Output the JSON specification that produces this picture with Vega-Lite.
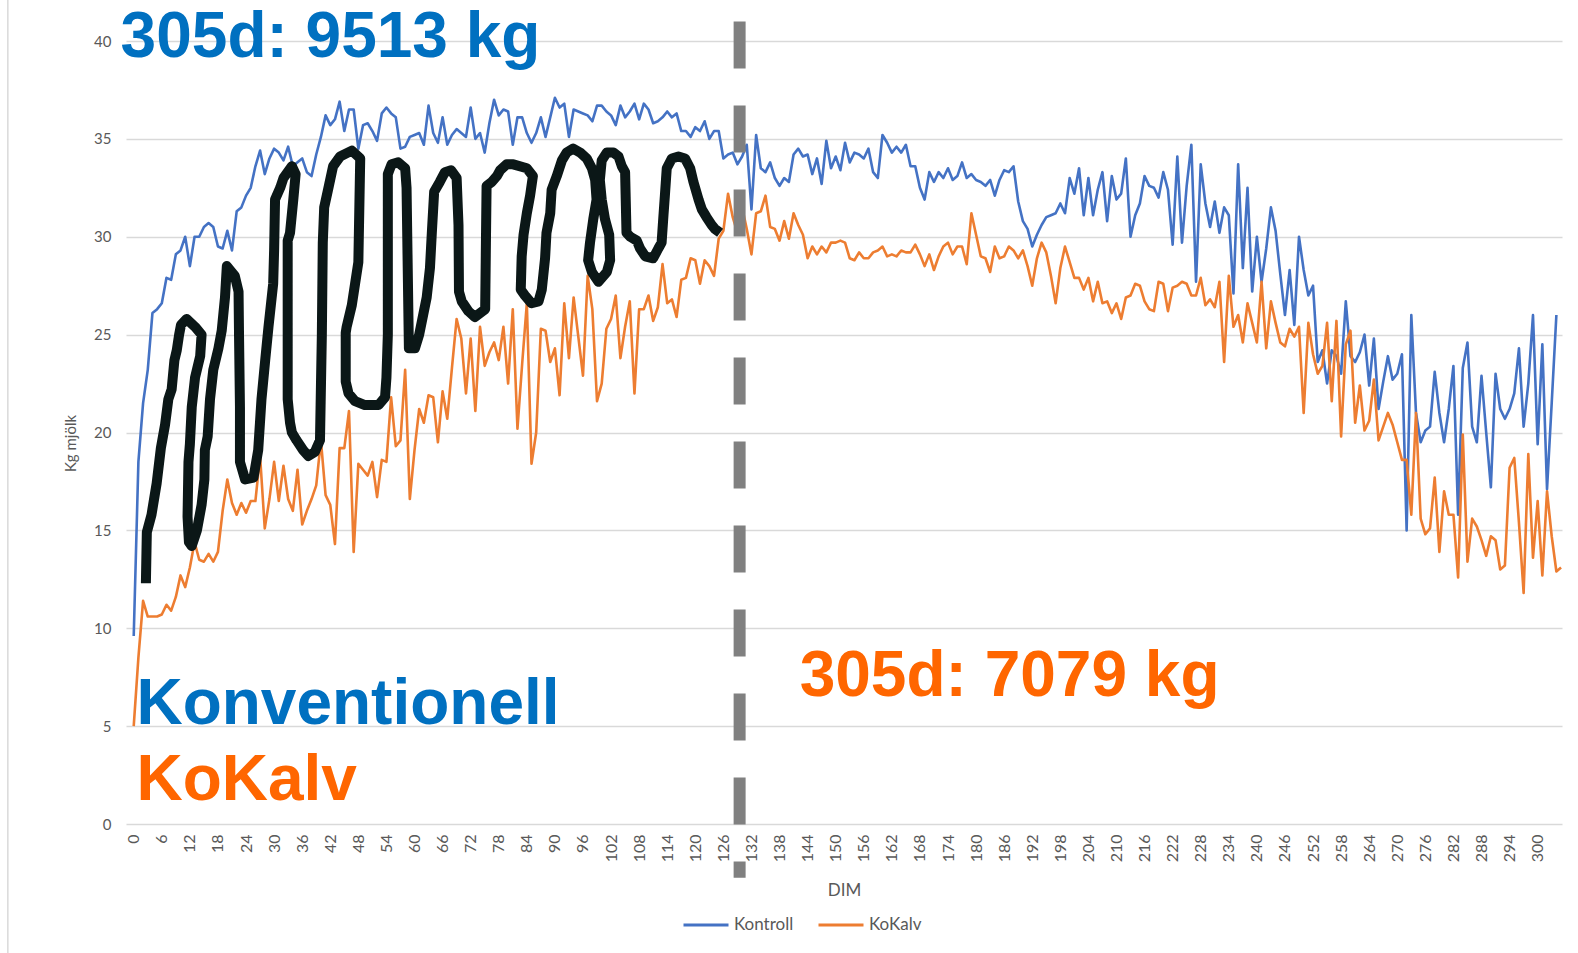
{
  "$schema": "https://vega.github.io/schema/vega-lite/v6.json",
  "autosize": {"type": "none"},
  "width": 1436,
  "height": 783,
  "padding": {"left": 126, "top": 41, "right": 16, "bottom": 129},
  "background": "white",
  "config": {
    "view": {"stroke": null},
    "font": "Lato"
  },
  "resolve": {"axis": {"x": "independent", "y": "independent"}},
  "datasets": {
    "milk": [
      {"DIM":0,"Kontroll":9.6,"KoKalv":5.0},{"DIM":1,"Kontroll":18.5,"KoKalv":8.5},{"DIM":2,"Kontroll":21.5,"KoKalv":11.4},{"DIM":3,"Kontroll":23.2,"KoKalv":10.6},{"DIM":4,"Kontroll":26.1,"KoKalv":10.6},{"DIM":5,"Kontroll":26.3,"KoKalv":10.6},{"DIM":6,"Kontroll":26.6,"KoKalv":10.7},{"DIM":7,"Kontroll":27.9,"KoKalv":11.2},{"DIM":8,"Kontroll":27.8,"KoKalv":10.9},{"DIM":9,"Kontroll":29.1,"KoKalv":11.6},
      {"DIM":10,"Kontroll":29.3,"KoKalv":12.7},{"DIM":11,"Kontroll":30.0,"KoKalv":12.1},{"DIM":12,"Kontroll":28.5,"KoKalv":13.1},{"DIM":13,"Kontroll":30.0,"KoKalv":14.4},{"DIM":14,"Kontroll":30.0,"KoKalv":13.5},{"DIM":15,"Kontroll":30.5,"KoKalv":13.4},{"DIM":16,"Kontroll":30.7,"KoKalv":13.8},{"DIM":17,"Kontroll":30.5,"KoKalv":13.4},{"DIM":18,"Kontroll":29.5,"KoKalv":13.9},{"DIM":19,"Kontroll":29.4,"KoKalv":16.0},
      {"DIM":20,"Kontroll":30.3,"KoKalv":17.6},{"DIM":21,"Kontroll":29.3,"KoKalv":16.4},{"DIM":22,"Kontroll":31.3,"KoKalv":15.8},{"DIM":23,"Kontroll":31.5,"KoKalv":16.4},{"DIM":24,"Kontroll":32.1,"KoKalv":15.9},{"DIM":25,"Kontroll":32.5,"KoKalv":16.5},{"DIM":26,"Kontroll":33.6,"KoKalv":16.5},{"DIM":27,"Kontroll":34.4,"KoKalv":18.8},{"DIM":28,"Kontroll":33.2,"KoKalv":15.1},{"DIM":29,"Kontroll":34.0,"KoKalv":16.6},
      {"DIM":30,"Kontroll":34.5,"KoKalv":18.5},{"DIM":31,"Kontroll":34.3,"KoKalv":16.5},{"DIM":32,"Kontroll":33.9,"KoKalv":18.3},{"DIM":33,"Kontroll":34.6,"KoKalv":16.6},{"DIM":34,"Kontroll":33.6,"KoKalv":16.0},{"DIM":35,"Kontroll":33.8,"KoKalv":18.1},{"DIM":36,"Kontroll":34.0,"KoKalv":15.3},{"DIM":37,"Kontroll":33.3,"KoKalv":16.0},{"DIM":38,"Kontroll":33.1,"KoKalv":16.6},{"DIM":39,"Kontroll":34.2,"KoKalv":17.3},
      {"DIM":40,"Kontroll":35.1,"KoKalv":19.6},{"DIM":41,"Kontroll":36.2,"KoKalv":16.8},{"DIM":42,"Kontroll":35.7,"KoKalv":16.3},{"DIM":43,"Kontroll":36.0,"KoKalv":14.3},{"DIM":44,"Kontroll":36.9,"KoKalv":19.2},{"DIM":45,"Kontroll":35.4,"KoKalv":19.2},{"DIM":46,"Kontroll":36.5,"KoKalv":21.1},{"DIM":47,"Kontroll":36.5,"KoKalv":13.9},{"DIM":48,"Kontroll":34.5,"KoKalv":18.4},{"DIM":49,"Kontroll":35.7,"KoKalv":18.1},
      {"DIM":50,"Kontroll":35.8,"KoKalv":17.8},{"DIM":51,"Kontroll":35.4,"KoKalv":18.5},{"DIM":52,"Kontroll":34.9,"KoKalv":16.7},{"DIM":53,"Kontroll":36.3,"KoKalv":18.6},{"DIM":54,"Kontroll":36.6,"KoKalv":18.5},{"DIM":55,"Kontroll":36.3,"KoKalv":21.8},{"DIM":56,"Kontroll":36.1,"KoKalv":19.3},{"DIM":57,"Kontroll":34.5,"KoKalv":19.6},{"DIM":58,"Kontroll":34.6,"KoKalv":23.2},{"DIM":59,"Kontroll":35.1,"KoKalv":16.6},
      {"DIM":60,"Kontroll":35.2,"KoKalv":19.1},{"DIM":61,"Kontroll":35.3,"KoKalv":21.2},{"DIM":62,"Kontroll":34.7,"KoKalv":20.5},{"DIM":63,"Kontroll":36.7,"KoKalv":21.9},{"DIM":64,"Kontroll":35.3,"KoKalv":21.8},{"DIM":65,"Kontroll":34.8,"KoKalv":19.5},{"DIM":66,"Kontroll":36.1,"KoKalv":22.1},{"DIM":67,"Kontroll":34.7,"KoKalv":20.7},{"DIM":68,"Kontroll":35.2,"KoKalv":23.3},{"DIM":69,"Kontroll":35.5,"KoKalv":25.8},
      {"DIM":70,"Kontroll":35.3,"KoKalv":24.8},{"DIM":71,"Kontroll":35.1,"KoKalv":22.0},{"DIM":72,"Kontroll":36.6,"KoKalv":24.8},{"DIM":73,"Kontroll":35.0,"KoKalv":21.1},{"DIM":74,"Kontroll":35.3,"KoKalv":25.4},{"DIM":75,"Kontroll":34.3,"KoKalv":23.4},{"DIM":76,"Kontroll":35.8,"KoKalv":24.1},{"DIM":77,"Kontroll":37.0,"KoKalv":24.6},{"DIM":78,"Kontroll":36.2,"KoKalv":23.7},{"DIM":79,"Kontroll":36.5,"KoKalv":25.4},
      {"DIM":80,"Kontroll":36.4,"KoKalv":22.5},{"DIM":81,"Kontroll":34.7,"KoKalv":26.3},{"DIM":82,"Kontroll":36.1,"KoKalv":20.2},{"DIM":83,"Kontroll":36.1,"KoKalv":23.5},{"DIM":84,"Kontroll":35.3,"KoKalv":26.6},{"DIM":85,"Kontroll":34.8,"KoKalv":18.4},{"DIM":86,"Kontroll":35.3,"KoKalv":20.0},{"DIM":87,"Kontroll":36.1,"KoKalv":25.3},{"DIM":88,"Kontroll":35.1,"KoKalv":25.2},{"DIM":89,"Kontroll":36.1,"KoKalv":23.6},
      {"DIM":90,"Kontroll":37.1,"KoKalv":24.3},{"DIM":91,"Kontroll":36.6,"KoKalv":21.9},{"DIM":92,"Kontroll":36.8,"KoKalv":26.6},{"DIM":93,"Kontroll":35.1,"KoKalv":23.8},{"DIM":94,"Kontroll":36.5,"KoKalv":26.9},{"DIM":95,"Kontroll":36.4,"KoKalv":24.9},{"DIM":96,"Kontroll":36.3,"KoKalv":22.9},{"DIM":97,"Kontroll":36.2,"KoKalv":28.0},{"DIM":98,"Kontroll":35.9,"KoKalv":26.3},{"DIM":99,"Kontroll":36.7,"KoKalv":21.6},
      {"DIM":100,"Kontroll":36.7,"KoKalv":22.5},{"DIM":101,"Kontroll":36.4,"KoKalv":25.3},{"DIM":102,"Kontroll":36.2,"KoKalv":25.8},{"DIM":103,"Kontroll":35.7,"KoKalv":27.0},{"DIM":104,"Kontroll":36.7,"KoKalv":23.8},{"DIM":105,"Kontroll":36.1,"KoKalv":25.4},{"DIM":106,"Kontroll":36.4,"KoKalv":26.7},{"DIM":107,"Kontroll":36.8,"KoKalv":22.0},{"DIM":108,"Kontroll":36.0,"KoKalv":26.3},{"DIM":109,"Kontroll":36.8,"KoKalv":26.3},
      {"DIM":110,"Kontroll":36.5,"KoKalv":27.0},{"DIM":111,"Kontroll":35.8,"KoKalv":25.7},{"DIM":112,"Kontroll":35.9,"KoKalv":26.4},{"DIM":113,"Kontroll":36.1,"KoKalv":28.6},{"DIM":114,"Kontroll":36.4,"KoKalv":26.6},{"DIM":115,"Kontroll":36.1,"KoKalv":26.8},{"DIM":116,"Kontroll":36.3,"KoKalv":25.9},{"DIM":117,"Kontroll":35.4,"KoKalv":27.8},{"DIM":118,"Kontroll":35.4,"KoKalv":27.9},{"DIM":119,"Kontroll":35.1,"KoKalv":28.9},
      {"DIM":120,"Kontroll":35.6,"KoKalv":28.8},{"DIM":121,"Kontroll":35.4,"KoKalv":27.6},{"DIM":122,"Kontroll":35.9,"KoKalv":28.8},{"DIM":123,"Kontroll":35.0,"KoKalv":28.5},{"DIM":124,"Kontroll":35.4,"KoKalv":28.0},{"DIM":125,"Kontroll":35.4,"KoKalv":29.9},{"DIM":126,"Kontroll":34.0,"KoKalv":30.3},{"DIM":127,"Kontroll":34.2,"KoKalv":32.2},{"DIM":128,"Kontroll":34.3,"KoKalv":31.0},{"DIM":129,"Kontroll":33.7,"KoKalv":30.2},
      {"DIM":130,"Kontroll":34.1,"KoKalv":31.5},{"DIM":131,"Kontroll":34.7,"KoKalv":30.4},{"DIM":132,"Kontroll":31.4,"KoKalv":29.1},{"DIM":133,"Kontroll":35.2,"KoKalv":31.2},{"DIM":134,"Kontroll":33.5,"KoKalv":31.3},{"DIM":135,"Kontroll":33.3,"KoKalv":32.1},{"DIM":136,"Kontroll":33.8,"KoKalv":30.5},{"DIM":137,"Kontroll":33.0,"KoKalv":30.4},{"DIM":138,"Kontroll":32.6,"KoKalv":29.8},{"DIM":139,"Kontroll":33.0,"KoKalv":30.8},
      {"DIM":140,"Kontroll":32.8,"KoKalv":29.9},{"DIM":141,"Kontroll":34.2,"KoKalv":31.2},{"DIM":142,"Kontroll":34.5,"KoKalv":30.6},{"DIM":143,"Kontroll":34.1,"KoKalv":30.1},{"DIM":144,"Kontroll":34.2,"KoKalv":28.9},{"DIM":145,"Kontroll":33.2,"KoKalv":29.5},{"DIM":146,"Kontroll":34.0,"KoKalv":29.1},{"DIM":147,"Kontroll":32.7,"KoKalv":29.5},{"DIM":148,"Kontroll":34.9,"KoKalv":29.2},{"DIM":149,"Kontroll":33.5,"KoKalv":29.7},
      {"DIM":150,"Kontroll":34.1,"KoKalv":29.7},{"DIM":151,"Kontroll":33.4,"KoKalv":29.8},{"DIM":152,"Kontroll":34.8,"KoKalv":29.7},{"DIM":153,"Kontroll":33.8,"KoKalv":28.9},{"DIM":154,"Kontroll":34.3,"KoKalv":28.8},{"DIM":155,"Kontroll":34.2,"KoKalv":29.2},{"DIM":156,"Kontroll":34.0,"KoKalv":28.9},{"DIM":157,"Kontroll":34.5,"KoKalv":28.9},{"DIM":158,"Kontroll":33.3,"KoKalv":29.2},{"DIM":159,"Kontroll":33.0,"KoKalv":29.3},
      {"DIM":160,"Kontroll":35.2,"KoKalv":29.5},{"DIM":161,"Kontroll":34.8,"KoKalv":29.0},{"DIM":162,"Kontroll":34.3,"KoKalv":29.1},{"DIM":163,"Kontroll":34.6,"KoKalv":29.0},{"DIM":164,"Kontroll":34.3,"KoKalv":29.3},{"DIM":165,"Kontroll":34.7,"KoKalv":29.2},{"DIM":166,"Kontroll":33.6,"KoKalv":29.2},{"DIM":167,"Kontroll":33.6,"KoKalv":29.6},{"DIM":168,"Kontroll":32.5,"KoKalv":29.1},{"DIM":169,"Kontroll":31.9,"KoKalv":28.5},
      {"DIM":170,"Kontroll":33.3,"KoKalv":29.1},{"DIM":171,"Kontroll":32.8,"KoKalv":28.3},{"DIM":172,"Kontroll":33.3,"KoKalv":29.0},{"DIM":173,"Kontroll":33.0,"KoKalv":29.5},{"DIM":174,"Kontroll":33.5,"KoKalv":29.7},{"DIM":175,"Kontroll":32.9,"KoKalv":29.1},{"DIM":176,"Kontroll":33.1,"KoKalv":29.5},{"DIM":177,"Kontroll":33.8,"KoKalv":29.5},{"DIM":178,"Kontroll":33.0,"KoKalv":28.6},{"DIM":179,"Kontroll":33.2,"KoKalv":31.2},
      {"DIM":180,"Kontroll":32.9,"KoKalv":30.1},{"DIM":181,"Kontroll":32.8,"KoKalv":29.0},{"DIM":182,"Kontroll":32.6,"KoKalv":28.9},{"DIM":183,"Kontroll":32.9,"KoKalv":28.2},{"DIM":184,"Kontroll":32.1,"KoKalv":29.5},{"DIM":185,"Kontroll":32.9,"KoKalv":28.9},{"DIM":186,"Kontroll":33.4,"KoKalv":29.0},{"DIM":187,"Kontroll":33.3,"KoKalv":29.5},{"DIM":188,"Kontroll":33.6,"KoKalv":29.3},{"DIM":189,"Kontroll":31.8,"KoKalv":28.9},
      {"DIM":190,"Kontroll":30.8,"KoKalv":29.3},{"DIM":191,"Kontroll":30.4,"KoKalv":28.5},{"DIM":192,"Kontroll":29.5,"KoKalv":27.5},{"DIM":193,"Kontroll":30.1,"KoKalv":28.9},{"DIM":194,"Kontroll":30.6,"KoKalv":29.7},{"DIM":195,"Kontroll":31.0,"KoKalv":29.2},{"DIM":196,"Kontroll":31.1,"KoKalv":28.0},{"DIM":197,"Kontroll":31.2,"KoKalv":26.6},{"DIM":198,"Kontroll":31.7,"KoKalv":28.4},{"DIM":199,"Kontroll":31.2,"KoKalv":29.5},
      {"DIM":200,"Kontroll":33.0,"KoKalv":28.7},{"DIM":201,"Kontroll":32.2,"KoKalv":27.9},{"DIM":202,"Kontroll":33.5,"KoKalv":27.9},{"DIM":203,"Kontroll":31.1,"KoKalv":27.3},{"DIM":204,"Kontroll":33.0,"KoKalv":27.9},{"DIM":205,"Kontroll":31.1,"KoKalv":26.7},{"DIM":206,"Kontroll":32.4,"KoKalv":27.7},{"DIM":207,"Kontroll":33.3,"KoKalv":26.6},{"DIM":208,"Kontroll":30.8,"KoKalv":26.7},{"DIM":209,"Kontroll":33.1,"KoKalv":26.1},
      {"DIM":210,"Kontroll":31.9,"KoKalv":26.6},{"DIM":211,"Kontroll":32.2,"KoKalv":25.8},{"DIM":212,"Kontroll":34.0,"KoKalv":26.9},{"DIM":213,"Kontroll":30.0,"KoKalv":27.0},{"DIM":214,"Kontroll":31.1,"KoKalv":27.6},{"DIM":215,"Kontroll":31.7,"KoKalv":27.5},{"DIM":216,"Kontroll":33.1,"KoKalv":26.7},{"DIM":217,"Kontroll":32.6,"KoKalv":26.3},{"DIM":218,"Kontroll":32.5,"KoKalv":26.2},{"DIM":219,"Kontroll":32.0,"KoKalv":27.7},
      {"DIM":220,"Kontroll":33.3,"KoKalv":27.6},{"DIM":221,"Kontroll":32.4,"KoKalv":26.2},{"DIM":222,"Kontroll":29.6,"KoKalv":27.4},{"DIM":223,"Kontroll":34.1,"KoKalv":27.5},{"DIM":224,"Kontroll":29.7,"KoKalv":27.7},{"DIM":225,"Kontroll":32.6,"KoKalv":27.6},{"DIM":226,"Kontroll":34.7,"KoKalv":27.0},{"DIM":227,"Kontroll":27.7,"KoKalv":27.0},{"DIM":228,"Kontroll":33.7,"KoKalv":27.9},{"DIM":229,"Kontroll":31.7,"KoKalv":26.5},
      {"DIM":230,"Kontroll":30.5,"KoKalv":26.8},{"DIM":231,"Kontroll":31.8,"KoKalv":26.4},{"DIM":232,"Kontroll":30.2,"KoKalv":27.7},{"DIM":233,"Kontroll":31.5,"KoKalv":23.6},{"DIM":234,"Kontroll":31.1,"KoKalv":28.0},{"DIM":235,"Kontroll":27.1,"KoKalv":25.4},{"DIM":236,"Kontroll":33.7,"KoKalv":26.0},{"DIM":237,"Kontroll":28.4,"KoKalv":24.6},{"DIM":238,"Kontroll":32.5,"KoKalv":26.6},{"DIM":239,"Kontroll":27.2,"KoKalv":25.6},
      {"DIM":240,"Kontroll":30.0,"KoKalv":24.6},{"DIM":241,"Kontroll":27.7,"KoKalv":27.7},{"DIM":242,"Kontroll":29.4,"KoKalv":24.3},{"DIM":243,"Kontroll":31.5,"KoKalv":26.7},{"DIM":244,"Kontroll":30.3,"KoKalv":25.6},{"DIM":245,"Kontroll":28.1,"KoKalv":24.6},{"DIM":246,"Kontroll":26.0,"KoKalv":24.4},{"DIM":247,"Kontroll":28.3,"KoKalv":25.3},{"DIM":248,"Kontroll":25.5,"KoKalv":24.9},{"DIM":249,"Kontroll":30.0,"KoKalv":25.4},
      {"DIM":250,"Kontroll":28.3,"KoKalv":21.0},{"DIM":251,"Kontroll":27.0,"KoKalv":25.6},{"DIM":252,"Kontroll":27.5,"KoKalv":24.0},{"DIM":253,"Kontroll":23.6,"KoKalv":23.0},{"DIM":254,"Kontroll":24.2,"KoKalv":23.4},{"DIM":255,"Kontroll":22.5,"KoKalv":25.6},{"DIM":256,"Kontroll":24.2,"KoKalv":21.6},{"DIM":257,"Kontroll":23.9,"KoKalv":25.7},{"DIM":258,"Kontroll":23.0,"KoKalv":19.8},{"DIM":259,"Kontroll":26.7,"KoKalv":24.5},
      {"DIM":260,"Kontroll":23.9,"KoKalv":25.2},{"DIM":261,"Kontroll":23.6,"KoKalv":20.5},{"DIM":262,"Kontroll":24.1,"KoKalv":22.4},{"DIM":263,"Kontroll":25.0,"KoKalv":20.1},{"DIM":264,"Kontroll":22.4,"KoKalv":20.6},{"DIM":265,"Kontroll":24.8,"KoKalv":22.7},{"DIM":266,"Kontroll":21.2,"KoKalv":19.6},{"DIM":267,"Kontroll":22.6,"KoKalv":20.3},{"DIM":268,"Kontroll":23.9,"KoKalv":21.0},{"DIM":269,"Kontroll":22.7,"KoKalv":20.4},
      {"DIM":270,"Kontroll":23.0,"KoKalv":19.5},{"DIM":271,"Kontroll":24.0,"KoKalv":18.6},{"DIM":272,"Kontroll":15.0,"KoKalv":18.6},{"DIM":273,"Kontroll":26.0,"KoKalv":15.8},{"DIM":274,"Kontroll":21.0,"KoKalv":21.0},{"DIM":275,"Kontroll":19.5,"KoKalv":15.6},{"DIM":276,"Kontroll":20.1,"KoKalv":14.8},{"DIM":277,"Kontroll":20.3,"KoKalv":15.1},{"DIM":278,"Kontroll":23.1,"KoKalv":17.7},{"DIM":279,"Kontroll":21.0,"KoKalv":13.9},
      {"DIM":280,"Kontroll":19.5,"KoKalv":17.0},{"DIM":281,"Kontroll":21.2,"KoKalv":15.8},{"DIM":282,"Kontroll":23.4,"KoKalv":15.8},{"DIM":283,"Kontroll":15.8,"KoKalv":12.6},{"DIM":284,"Kontroll":23.3,"KoKalv":19.9},{"DIM":285,"Kontroll":24.6,"KoKalv":13.4},{"DIM":286,"Kontroll":20.3,"KoKalv":15.6},{"DIM":287,"Kontroll":19.5,"KoKalv":15.2},{"DIM":288,"Kontroll":22.9,"KoKalv":14.5},{"DIM":289,"Kontroll":20.0,"KoKalv":13.7},
      {"DIM":290,"Kontroll":17.2,"KoKalv":14.7},{"DIM":291,"Kontroll":23.0,"KoKalv":14.5},{"DIM":292,"Kontroll":21.2,"KoKalv":13.0},{"DIM":293,"Kontroll":20.7,"KoKalv":13.2},{"DIM":294,"Kontroll":21.2,"KoKalv":18.2},{"DIM":295,"Kontroll":22.0,"KoKalv":18.7},{"DIM":296,"Kontroll":24.3,"KoKalv":15.4},{"DIM":297,"Kontroll":20.3,"KoKalv":11.8},{"DIM":298,"Kontroll":22.5,"KoKalv":18.9},{"DIM":299,"Kontroll":26.0,"KoKalv":13.6},
      {"DIM":300,"Kontroll":19.4,"KoKalv":16.5},{"DIM":301,"Kontroll":24.5,"KoKalv":12.7},{"DIM":302,"Kontroll":17.1,"KoKalv":17.0},{"DIM":303,"Kontroll":21.5,"KoKalv":14.7},{"DIM":304,"Kontroll":26.0,"KoKalv":12.9},{"DIM":305,"KoKalv":13.1}
    ],
    "scribble": [
      {"o":1,"DIM":2.6,"kg":12.3},{"o":2,"DIM":2.8,"kg":14.9},{"o":3,"DIM":3.8,"kg":15.8},{"o":4,"DIM":4.9,"kg":17.4},{"o":5,"DIM":5.8,"kg":19.2},{"o":6,"DIM":6.7,"kg":20.4},{"o":7,"DIM":7.4,"kg":21.7},{"o":8,"DIM":8.1,"kg":22.2},{"o":9,"DIM":8.7,"kg":23.7},{"o":10,"DIM":9.2,"kg":24.2},
      {"o":11,"DIM":9.7,"kg":25.0},{"o":12,"DIM":10.1,"kg":25.5},{"o":13,"DIM":11.3,"kg":25.8},{"o":14,"DIM":13.1,"kg":25.4},{"o":15,"DIM":14.5,"kg":25.0},{"o":16,"DIM":14.2,"kg":23.9},{"o":17,"DIM":13.1,"kg":22.8},{"o":18,"DIM":12.4,"kg":21.3},{"o":19,"DIM":12.0,"kg":19.4},{"o":20,"DIM":11.7,"kg":18.5},
      {"o":21,"DIM":11.5,"kg":15.7},{"o":22,"DIM":11.8,"kg":14.4},{"o":23,"DIM":12.4,"kg":14.2},{"o":24,"DIM":13.5,"kg":15.0},{"o":25,"DIM":14.5,"kg":16.3},{"o":26,"DIM":15.1,"kg":17.6},{"o":27,"DIM":15.2,"kg":19.1},{"o":28,"DIM":15.8,"kg":19.8},{"o":29,"DIM":16.3,"kg":21.7},{"o":30,"DIM":17.0,"kg":23.2},
      {"o":31,"DIM":18.1,"kg":24.3},{"o":32,"DIM":18.8,"kg":25.2},{"o":33,"DIM":19.5,"kg":26.9},{"o":34,"DIM":19.9,"kg":28.5},{"o":35,"DIM":21.6,"kg":28.0},{"o":36,"DIM":22.4,"kg":27.2},{"o":37,"DIM":22.5,"kg":25.0},{"o":38,"DIM":22.7,"kg":21.3},{"o":39,"DIM":22.7,"kg":18.5},{"o":40,"DIM":23.8,"kg":17.6},
      {"o":41,"DIM":25.6,"kg":17.7},{"o":42,"DIM":26.6,"kg":19.1},{"o":43,"DIM":27.3,"kg":21.7},{"o":44,"DIM":28.1,"kg":23.7},{"o":45,"DIM":28.8,"kg":25.4},{"o":46,"DIM":29.3,"kg":26.5},{"o":47,"DIM":29.8,"kg":27.6},{"o":48,"DIM":30.0,"kg":29.3},{"o":49,"DIM":30.2,"kg":31.9},{"o":50,"DIM":31.3,"kg":32.5},
      {"o":51,"DIM":32.0,"kg":33.0},{"o":52,"DIM":33.8,"kg":33.6},{"o":53,"DIM":34.6,"kg":33.2},{"o":54,"DIM":34.1,"kg":31.9},{"o":55,"DIM":33.4,"kg":30.2},{"o":56,"DIM":32.9,"kg":29.8},{"o":57,"DIM":32.9,"kg":21.7},{"o":58,"DIM":33.4,"kg":20.5},{"o":59,"DIM":33.8,"kg":20.0},{"o":60,"DIM":34.8,"kg":19.6},
      {"o":61,"DIM":36.2,"kg":19.1},{"o":62,"DIM":37.3,"kg":18.8},{"o":63,"DIM":38.7,"kg":19.0},{"o":64,"DIM":39.8,"kg":19.6},{"o":65,"DIM":40.2,"kg":25.0},{"o":66,"DIM":40.4,"kg":29.7},{"o":67,"DIM":40.7,"kg":31.5},{"o":68,"DIM":41.7,"kg":32.6},{"o":69,"DIM":42.6,"kg":33.6},{"o":70,"DIM":44.1,"kg":34.1},
      {"o":71,"DIM":46.6,"kg":34.4},{"o":72,"DIM":48.4,"kg":34.0},{"o":73,"DIM":48.0,"kg":28.7},{"o":74,"DIM":47.3,"kg":27.6},{"o":75,"DIM":46.6,"kg":26.5},{"o":76,"DIM":45.5,"kg":25.4},{"o":77,"DIM":45.3,"kg":25.1},{"o":78,"DIM":45.3,"kg":22.6},{"o":79,"DIM":45.9,"kg":22.0},{"o":80,"DIM":47.3,"kg":21.6},
      {"o":81,"DIM":49.4,"kg":21.4},{"o":82,"DIM":52.3,"kg":21.4},{"o":83,"DIM":53.7,"kg":21.8},{"o":84,"DIM":54.0,"kg":22.8},{"o":85,"DIM":54.3,"kg":25.0},{"o":86,"DIM":54.3,"kg":33.2},{"o":87,"DIM":55.1,"kg":33.7},{"o":88,"DIM":56.5,"kg":33.8},{"o":89,"DIM":58.0,"kg":33.5},{"o":90,"DIM":58.3,"kg":32.5},
      {"o":91,"DIM":58.8,"kg":24.3},{"o":92,"DIM":60.1,"kg":24.3},{"o":93,"DIM":61.0,"kg":25.0},{"o":94,"DIM":62.6,"kg":26.9},{"o":95,"DIM":63.3,"kg":28.4},{"o":96,"DIM":63.7,"kg":30.2},{"o":97,"DIM":64.2,"kg":32.3},{"o":98,"DIM":65.4,"kg":32.8},{"o":99,"DIM":66.5,"kg":33.3},{"o":100,"DIM":67.8,"kg":33.4},
      {"o":101,"DIM":69.0,"kg":33.0},{"o":102,"DIM":69.4,"kg":30.6},{"o":103,"DIM":69.5,"kg":27.2},{"o":104,"DIM":70.1,"kg":26.7},{"o":105,"DIM":71.5,"kg":26.2},{"o":106,"DIM":72.9,"kg":25.9},{"o":107,"DIM":75.1,"kg":26.3},{"o":108,"DIM":75.4,"kg":32.6},{"o":109,"DIM":76.5,"kg":32.8},{"o":110,"DIM":77.6,"kg":33.1},
      {"o":111,"DIM":78.3,"kg":33.4},{"o":112,"DIM":79.7,"kg":33.7},{"o":113,"DIM":81.1,"kg":33.7},{"o":114,"DIM":84.0,"kg":33.5},{"o":115,"DIM":85.3,"kg":33.1},{"o":116,"DIM":84.7,"kg":32.1},{"o":117,"DIM":84.0,"kg":31.2},{"o":118,"DIM":83.3,"kg":30.1},{"o":119,"DIM":82.9,"kg":29.0},{"o":120,"DIM":82.7,"kg":27.3},
      {"o":121,"DIM":83.6,"kg":27.0},{"o":122,"DIM":85.0,"kg":26.6},{"o":123,"DIM":86.5,"kg":26.7},{"o":124,"DIM":87.2,"kg":27.3},{"o":125,"DIM":87.9,"kg":28.9},{"o":126,"DIM":88.2,"kg":30.2},{"o":127,"DIM":89.0,"kg":31.2},{"o":128,"DIM":89.3,"kg":32.4},{"o":129,"DIM":90.4,"kg":33.1},{"o":130,"DIM":91.5,"kg":33.9},
      {"o":131,"DIM":92.5,"kg":34.3},{"o":132,"DIM":93.9,"kg":34.5},{"o":133,"DIM":95.4,"kg":34.3},{"o":134,"DIM":96.8,"kg":34.0},{"o":135,"DIM":97.9,"kg":33.5},{"o":136,"DIM":98.6,"kg":32.9},{"o":137,"DIM":98.9,"kg":31.9},{"o":138,"DIM":98.2,"kg":30.9},{"o":139,"DIM":97.5,"kg":29.7},{"o":140,"DIM":97.1,"kg":28.8},
      {"o":141,"DIM":97.9,"kg":28.2},{"o":142,"DIM":99.3,"kg":27.7},{"o":143,"DIM":101.1,"kg":28.2},{"o":144,"DIM":101.8,"kg":28.8},{"o":145,"DIM":101.6,"kg":30.1},{"o":146,"DIM":100.7,"kg":30.9},{"o":147,"DIM":100.0,"kg":31.9},{"o":148,"DIM":99.6,"kg":32.9},{"o":149,"DIM":100.0,"kg":33.9},{"o":150,"DIM":101.1,"kg":34.3},
      {"o":151,"DIM":102.5,"kg":34.3},{"o":152,"DIM":103.6,"kg":34.1},{"o":153,"DIM":104.3,"kg":33.6},{"o":154,"DIM":105.0,"kg":33.3},{"o":155,"DIM":105.3,"kg":30.2},{"o":156,"DIM":106.1,"kg":30.0},{"o":157,"DIM":107.5,"kg":29.8},{"o":158,"DIM":108.2,"kg":29.4},{"o":159,"DIM":109.3,"kg":29.0},{"o":160,"DIM":111.0,"kg":28.9},
      {"o":161,"DIM":112.1,"kg":29.4},{"o":162,"DIM":112.8,"kg":29.7},{"o":163,"DIM":113.2,"kg":31.1},{"o":164,"DIM":113.5,"kg":32.1},{"o":165,"DIM":113.9,"kg":33.5},{"o":166,"DIM":115.0,"kg":34.0},{"o":167,"DIM":116.4,"kg":34.1},{"o":168,"DIM":117.8,"kg":34.0},{"o":169,"DIM":118.9,"kg":33.5},{"o":170,"DIM":119.6,"kg":32.8},
      {"o":171,"DIM":120.7,"kg":31.9},{"o":172,"DIM":121.4,"kg":31.4},{"o":173,"DIM":122.4,"kg":31.0},{"o":174,"DIM":123.5,"kg":30.6},{"o":175,"DIM":124.2,"kg":30.4},{"o":176,"DIM":125.3,"kg":30.2}
    ]
  },
  "layer": [
    {
      "data": {"name": "milk"},
      "transform": [
        {"fold": ["Kontroll", "KoKalv"], "as": ["serie", "kg"]},
        {"filter": "isValid(datum.kg)"}
      ],
      "mark": {"type": "line", "strokeWidth": 2.6, "strokeJoin": "round"},
      "encoding": {
        "x": {
          "field": "DIM", "type": "quantitative", "title": "DIM",
          "scale": {"domain": [-1.65, 305.2], "nice": false, "zero": false},
          "axis": {
            "values": [0,6,12,18,24,30,36,42,48,54,60,66,72,78,84,90,96,102,108,114,120,126,132,138,144,150,156,162,168,174,180,186,192,198,204,210,216,222,228,234,240,246,252,258,264,270,276,282,288,294,300],
            "labelAngle": -90, "labelAlign": "right", "labelBaseline": "middle",
            "labelPadding": 10, "labelFontSize": 16, "labelColor": "#595959", "labelFont": "Lato",
            "labelOverlap": false, "labelFlush": false, "labelBound": false,
            "domain": false, "ticks": false, "grid": false,
            "titleFontSize": 17, "titleColor": "#595959", "titleFontWeight": "normal", "titleFont": "Lato",
            "titleY": 66, "titleBaseline": "middle"
          }
        },
        "y": {
          "field": "kg", "type": "quantitative", "title": "Kg mjölk",
          "scale": {"domain": [0, 40], "nice": false},
          "axis": {
            "values": [0,5,10,15,20,25,30,35,40],
            "domain": false, "ticks": false, "grid": true, "gridColor": "#D9D9D9", "gridWidth": 1.5,
            "labelFontSize": 15, "labelColor": "#595959", "labelPadding": 15, "labelFont": "Lato",
            "titleFontSize": 15, "titleColor": "#595959", "titleFontWeight": "normal", "titleFont": "Lato",
            "titleX": -56, "titleY": 402, "titleAngle": 270, "titleAlign": "center", "titleBaseline": "middle"
          }
        },
        "color": {
          "field": "serie", "type": "nominal",
          "scale": {"domain": ["Kontroll", "KoKalv"], "range": ["#4472C4", "#ED7D31"]},
          "legend": {
            "orient": "none", "legendX": 556, "legendY": 860, "direction": "horizontal", "title": null,
            "symbolType": "stroke", "symbolStrokeWidth": 3, "symbolSize": 2025,
            "labelFontSize": 17, "labelColor": "#595959", "labelFont": "Lato", "labelOffset": 4, "columnPadding": 18
          }
        }
      }
    },
    {
      "data": {"name": "scribble"},
      "mark": {"type": "line", "color": "#0B1717", "strokeWidth": 10, "strokeJoin": "round", "strokeCap": "butt"},
      "encoding": {
        "x": {"field": "DIM", "type": "quantitative", "axis": null},
        "y": {"field": "kg", "type": "quantitative", "axis": null},
        "order": {"field": "o", "type": "quantitative"}
      }
    },
    {
      "data": {"values": [{}]},
      "mark": {"type": "rule", "color": "#808080", "strokeWidth": 12, "strokeDash": [47, 37], "strokeCap": "butt"},
      "encoding": {
        "x": {"datum": 129.47, "type": "quantitative", "axis": null},
        "y": {"datum": 41.0, "type": "quantitative", "axis": null},
        "y2": {"datum": -2.75}
      }
    },
    {
      "data": {"values": [{}]},
      "mark": {"type": "rule", "color": "#D9D9D9", "strokeWidth": 1.5},
      "encoding": {
        "x": {"datum": -26.9, "type": "quantitative", "axis": null},
        "y": {"datum": 42.1, "type": "quantitative", "axis": null},
        "y2": {"datum": -6.6}
      }
    },
    {
      "data": {"values": [{}]},
      "mark": {"type": "text", "text": "305d: 9513 kg", "align": "left", "baseline": "alphabetic", "font": "Liberation Sans", "fontSize": 64, "fontWeight": "bold", "color": "#0070C0"},
      "encoding": {"x": {"datum": -2.8, "type": "quantitative", "axis": null}, "y": {"datum": 39.2, "type": "quantitative", "axis": null}}
    },
    {
      "data": {"values": [{}]},
      "mark": {"type": "text", "text": "305d: 7079 kg", "align": "left", "baseline": "alphabetic", "font": "Liberation Sans", "fontSize": 64, "fontWeight": "bold", "color": "#FF6600"},
      "encoding": {"x": {"datum": 142.3, "type": "quantitative", "axis": null}, "y": {"datum": 6.53, "type": "quantitative", "axis": null}}
    },
    {
      "data": {"values": [{}]},
      "mark": {"type": "text", "text": "Konventionell", "align": "left", "baseline": "alphabetic", "font": "Liberation Sans", "fontSize": 64, "fontWeight": "bold", "color": "#0070C0"},
      "encoding": {"x": {"datum": 0.58, "type": "quantitative", "axis": null}, "y": {"datum": 5.09, "type": "quantitative", "axis": null}}
    },
    {
      "data": {"values": [{}]},
      "mark": {"type": "text", "text": "KoKalv", "align": "left", "baseline": "alphabetic", "font": "Liberation Sans", "fontSize": 64, "fontWeight": "bold", "color": "#FF6600"},
      "encoding": {"x": {"datum": 0.58, "type": "quantitative", "axis": null}, "y": {"datum": 1.23, "type": "quantitative", "axis": null}}
    }
  ]
}
